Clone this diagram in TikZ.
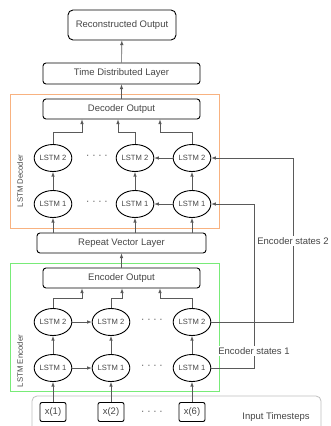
\documentclass[tikz,border=0pt]{standalone}
\usepackage{fontspec}
\setmainfont{Liberation Sans}
\usepackage{xcolor}
\usetikzlibrary{arrows,shapes,positioning}
\definecolor{decframe}{RGB}{248,178,128}
\definecolor{encframe}{RGB}{120,235,120}
\definecolor{txtgray}{RGB}{70,70,70}
\definecolor{linegray}{RGB}{90,90,90}

\begin{document}
\begin{tikzpicture}[x=1pt, y=-1pt, >=latex,
    layer/.style={draw, line width=0.9pt, rounded corners=3pt, text=txtgray, font=\fontsize{9.5}{11}\selectfont, minimum height=20pt},
    cell/.style={draw, ellipse, line width=0.9pt, inner sep=0pt, minimum width=33pt, minimum height=27pt, text=txtgray, font=\fontsize{7.6}{9}\selectfont},
    xbox/.style={draw, line width=0.9pt, rounded corners=2pt, minimum width=26pt, minimum height=19pt, text=txtgray, font=\fontsize{9.5}{11}\selectfont},
    conn/.style={->, draw=linegray, line width=0.6pt},
    note/.style={text=txtgray, font=\fontsize{9.5}{11}\selectfont, fill=white, inner sep=1.5pt}]
    \useasboundingbox (0,0) rectangle (331,426);

    % frames
    \draw[decframe, line width=0.8pt] (10,94) rectangle (219,228);
    \draw[encframe, line width=0.8pt] (10,263) rectangle (219,391);
    \draw[black!25, line width=0.8pt, rounded corners=5pt] (32,396) rectangle (321,432);
    \node[text=txtgray, font=\fontsize{7.8}{9}\selectfont, rotate=90] (declab) at (20,181) {LSTM Decoder};
    \node[text=txtgray, font=\fontsize{7.8}{9}\selectfont, rotate=90] (enclab) at (20,361) {LSTM Encoder};
    \node[text=txtgray, font=\fontsize{9.5}{11}\selectfont] (inlab) at (276,417) {Input Timesteps};

    % layers
    \node[layer, minimum width=108pt, minimum height=30pt, rounded corners=5pt] (recon) at (122,25) {Reconstructed Output};
    \node[layer, minimum width=157pt, minimum height=21pt] (tdl) at (121.5,73.5) {Time Distributed Layer};
    \node[layer, minimum width=157pt] (decout) at (121.5,109) {Decoder Output};
    \node[layer, minimum width=169pt] (repeat) at (121.5,243) {Repeat Vector Layer};
    \node[layer, minimum width=157pt] (encout) at (121.5,278) {Encoder Output};

    % decoder cells
    \node[cell] (d2a) at (53,158) {LSTM 2};
    \node[cell] (d2b) at (135,158) {LSTM 2};
    \node[cell] (d2c) at (192,158) {LSTM 2};
    \node[cell] (d1a) at (53,204) {LSTM 1};
    \node[cell] (d1b) at (135,204) {LSTM 1};
    \node[cell] (d1c) at (192,204) {LSTM 1};
    \node[text=txtgray] (ddots2) at (97,157) {· · · ·};
    \node[text=txtgray] (ddots1) at (97,203) {· · · ·};

    % encoder cells
    \node[cell] (e2a) at (53,322) {LSTM 2};
    \node[cell] (e2b) at (111,322) {LSTM 2};
    \node[cell] (e2c) at (192,322) {LSTM 2};
    \node[cell] (e1a) at (53,368) {LSTM 1};
    \node[cell] (e1b) at (111,368) {LSTM 1};
    \node[cell] (e1c) at (192,368) {LSTM 1};
    \node[text=txtgray] (edots2) at (152,321) {· · · ·};
    \node[text=txtgray] (edots1) at (152,367) {· · · ·};

    % inputs
    \node[xbox] (xa) at (53,412) {x(1)};
    \node[xbox] (xb) at (111,412) {x(2)};
    \node[xbox] (xc) at (192,412) {x(6)};
    \node[text=txtgray] (xdots) at (152,413) {· · · ·};

    % state labels
    \node[note] (s2) at (293,241) {Encoder states 2};
    \node[note] (s1) at (254,351) {Encoder states 1};

    % connectors
    \draw[conn] (tdl) -- (recon);
    \draw[conn] (decout) -- (tdl);
    \draw[conn] (d2a.north) -- ++(0,-11.5) -| ([xshift=-39.5pt]decout.south);
    \draw[conn] (d2b.north) -- ++(0,-11.5) -| ([xshift=-3.5pt]decout.south);
    \draw[conn] (d2c.north) -- ++(0,-11.5) -| ([xshift=38.5pt]decout.south);
    \foreach \c in {a,b,c} {
        \draw[conn] (d1\c) -- (d2\c);
        \draw[conn] (repeat.north -| d1\c) -- (d1\c);
        \draw[conn] (e1\c) -- (e2\c);
        \draw[conn] (x\c) -- (e1\c);
    }
    \draw[conn] (d2c) -- (d2b);
    \draw[conn] (d1c) -- (d1b);
    \draw[conn] (encout) -- (repeat);
    \draw[conn] (e2a.north) -- ++(0,-9.5) -| ([xshift=-39.5pt]encout.south);
    \draw[conn] (e2b.north) -- ++(0,-9.5) -| ([xshift=0.5pt]encout.south);
    \draw[conn] (e2c.north) -- ++(0,-9.5) -| ([xshift=38.5pt]encout.south);
    \draw[conn] (e2a) -- (e2b);
    \draw[conn] (e1a) -- (e1b);
    \draw[draw=linegray, line width=0.6pt] (e2c.east) -| (s2);
    \draw[conn] (s2) |- (d2c.east);
    \draw[draw=linegray, line width=0.6pt] (e1c.east) -| (s1);
    \draw[conn] (s1) |- (d1c.east);
\end{tikzpicture}
\end{document}
